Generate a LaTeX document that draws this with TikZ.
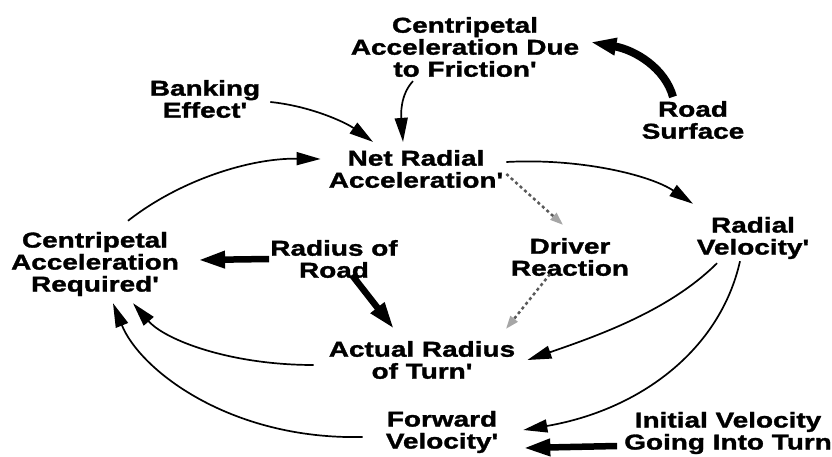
\documentclass[tikz,border=0pt]{standalone}
\usepackage{fontspec}
\newfontfamily\lbl{Liberation Sans}[FakeStretch=1.3,BoldFeatures={FakeBold=1.5}]
\usetikzlibrary{arrows.meta}
\begin{document}
\begin{tikzpicture}[x=1pt,y=-1pt,
  lab/.style={align=center,inner sep=0pt,font=\lbl\bfseries\fontsize{21.5}{22}\selectfont},
  thin/.style={line width=1.7pt,-{Triangle[length=24pt,width=13pt]}},
  thick/.style={line width=6.5pt,-{Triangle[length=27pt,width=16pt]}},
  dots/.style={black!65,line width=2.5pt,dash pattern=on 3pt off 3pt,-{Triangle[length=13pt,width=9pt,color=gray!70,fill=gray!70]}}]
\useasboundingbox (0,0) rectangle (832,457);
\node[lab] (cadf) at (465,47) {Centripetal\\Acceleration Due\\to Friction'};
\node[lab] (rs) at (693,120) {Road\\Surface};
\node[lab] (be) at (205,99) {Banking\\Effect'};
\node[lab] (net) at (416,169) {Net Radial\\Acceleration'};
\node[lab] (car) at (95,264) {Centripetal\\Acceleration\\Required'};
\node[lab] (rr) at (334,259) {Radius of\\Road};
\node[lab] (dr) at (570,257) {Driver\\Reaction};
\node[lab] (rv) at (753,238) {Radial\\Velocity'};
\node[lab] (ar) at (422,360) {Actual Radius\\of Turn'};
\node[lab] (fv) at (442,432) {Forward\\Velocity'};
\node[lab] (iv) at (728,433) {Initial Velocity\\Going Into Turn};
% connectors
\draw[line width=8pt,-{Triangle[length=26pt,width=16pt]}] ([shift={(-20,-4)}]rs.north) .. controls (665,68) and (635,50) .. ([shift={(11,-5)}]cadf.east);
\draw[thin] ([shift={(-52,4)}]cadf.south) .. controls (400,95) and (401,115) .. ([shift={(-13,-8)}]net.north);
\draw[thin] ([shift={(10,3)}]be.east) .. controls (310,106) and (345,122) .. ([shift={(-43,-8)}]net.north);
\draw[thin] ([shift={(33,-11)}]car.north) .. controls (180,180) and (250,158) .. ([shift={(-8,-10)}]net.west);
\draw[thin] ([shift={(3,-7)}]net.east) .. controls (580,158) and (650,175) .. ([shift={(-60,-13)}]rv.north);
\draw[dots] ([shift={(3,5)}]net.east) -- ([shift={(-7,-13)}]dr.north);
\draw[dots] ([shift={(-20,-2)}]dr.south) -- ([shift={(84,-12)}]ar.north);
\draw[thick] ([shift={(-1,0)}]rr.west) -- ([shift={(19,-4)}]car.east);
\draw[thick] ([shift={(18,-3)}]rr.south) -- ([shift={(-28,-12)}]ar.north);
\draw[thin] ([shift={(-36,4)}]rv.south) .. controls (670,310) and (600,335) .. ([shift={(12,0)}]ar.east);
\draw[thin] ([shift={(-13,2)}]rv.south) .. controls (720,350) and (640,410) .. ([shift={(25,-2)}]fv.east);
\draw[thin] ([shift={(-15,5)}]ar.west) .. controls (230,365) and (165,340) .. ([shift={(38,7)}]car.south);
\draw[thin] ([shift={(-23,5)}]fv.west) .. controls (230,440) and (140,370) .. ([shift={(18,7)}]car.south);
\draw[thick] ([shift={(-7,13)}]iv.west) -- ([shift={(25,16)}]fv.east);
\end{tikzpicture}
\end{document}
